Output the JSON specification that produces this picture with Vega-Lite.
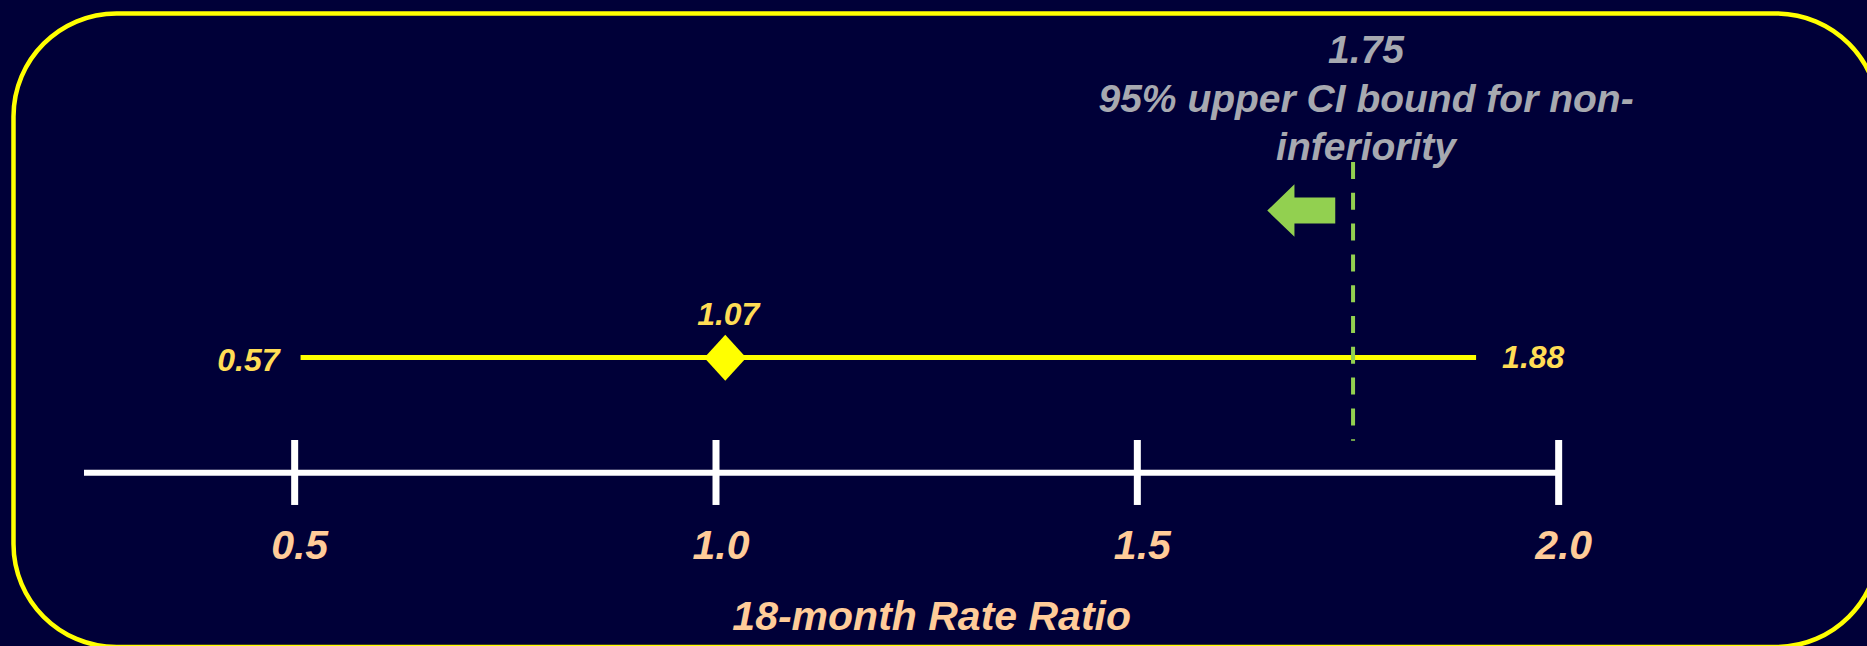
{
  "$schema": "https://vega.github.io/schema/vega-lite/v6.json",
  "width": 1865.5,
  "height": 633.5,
  "autosize": {"type": "none"},
  "padding": {"left": 13.5, "top": 13.5, "right": -12, "bottom": -1},
  "background": "#000038",
  "config": {
    "view": {"stroke": "#FFFF00", "strokeWidth": 4.5, "cornerRadius": 103, "fill": "#000038"},
    "text": {"font": "Liberation Sans", "fontWeight": "bold", "fontStyle": "italic"}
  },
  "datasets": {
    "axis": [{"start": 0.25, "end": 2.0}],
    "ticks": [
      {"v": 0.5, "label": "0.5"},
      {"v": 1.0, "label": "1.0"},
      {"v": 1.5, "label": "1.5"},
      {"v": 2.0, "label": "2.0"}
    ],
    "ci": [
      {"measure": "18-month Rate Ratio", "lower": 0.507, "estimate": 1.011, "upper": 1.902, "lowerLabel": "0.57", "estimateLabel": "1.07", "upperLabel": "1.88"}
    ],
    "margin": [
      {"threshold": 1.756, "note": "1.75\n95% upper CI bound for non-\ninferiority"}
    ],
    "title": [{"title": "18-month Rate Ratio", "center": 1.25}]
  },
  "layer": [
    {
      "data": {"name": "axis"},
      "mark": {"type": "rule", "color": "#FFFFFF", "strokeWidth": 6, "strokeCap": "butt"},
      "encoding": {
        "x": {"field": "start", "type": "quantitative", "scale": {"domain": [0.16634, 2.38014], "nice": false, "zero": false}, "axis": null},
        "x2": {"field": "end"},
        "y": {"datum": 2.751, "type": "quantitative", "scale": {"domain": [0, 10], "nice": false, "zero": false}, "axis": null}
      }
    },
    {
      "data": {"name": "ticks"},
      "mark": {"type": "rule", "color": "#FFFFFF", "strokeWidth": 7, "strokeCap": "butt"},
      "encoding": {
        "x": {"field": "v", "type": "quantitative", "scale": {"domain": [0.16634, 2.38014], "nice": false, "zero": false}, "axis": null},
        "y": {"datum": 3.268, "type": "quantitative", "scale": {"domain": [0, 10], "nice": false, "zero": false}, "axis": null},
        "y2": {"datum": 2.242}
      }
    },
    {
      "data": {"name": "ticks"},
      "mark": {"type": "text", "color": "#FFCC99", "fontSize": 41, "align": "center", "baseline": "alphabetic", "dx": 5},
      "encoding": {
        "x": {"field": "v", "type": "quantitative", "scale": {"domain": [0.16634, 2.38014], "nice": false, "zero": false}, "axis": null},
        "y": {"datum": 1.389, "type": "quantitative", "scale": {"domain": [0, 10], "nice": false, "zero": false}, "axis": null},
        "text": {"field": "label"}
      }
    },
    {
      "data": {"name": "title"},
      "mark": {"type": "text", "color": "#FFCC99", "fontSize": 41, "align": "center", "baseline": "alphabetic", "dx": 5},
      "encoding": {
        "x": {"field": "center", "type": "quantitative", "scale": {"domain": [0.16634, 2.38014], "nice": false, "zero": false}, "axis": null},
        "y": {"datum": 0.268, "type": "quantitative", "scale": {"domain": [0, 10], "nice": false, "zero": false}, "axis": null},
        "text": {"field": "title"}
      }
    },
    {
      "data": {"name": "ci"},
      "mark": {"type": "rule", "color": "#FFFF00", "strokeWidth": 5, "strokeCap": "butt"},
      "encoding": {
        "x": {"field": "lower", "type": "quantitative", "scale": {"domain": [0.16634, 2.38014], "nice": false, "zero": false}, "axis": null},
        "x2": {"field": "upper"},
        "y": {"datum": 4.57, "type": "quantitative", "scale": {"domain": [0, 10], "nice": false, "zero": false}, "axis": null}
      }
    },
    {
      "data": {"name": "ci"},
      "mark": {"type": "point", "shape": "M-1,0L0,-1.095L1,0L0,1.095Z", "size": 1764, "filled": true, "color": "#FFFF00", "opacity": 1, "strokeWidth": 0},
      "encoding": {
        "x": {"field": "estimate", "type": "quantitative", "scale": {"domain": [0.16634, 2.38014], "nice": false, "zero": false}, "axis": null},
        "y": {"datum": 4.567, "type": "quantitative", "scale": {"domain": [0, 10], "nice": false, "zero": false}, "axis": null}
      }
    },
    {
      "data": {"name": "ci"},
      "mark": {"type": "text", "color": "#FFDD55", "fontSize": 32, "align": "right", "baseline": "alphabetic", "dx": -21, "dy": 14},
      "encoding": {
        "x": {"field": "lower", "type": "quantitative", "scale": {"domain": [0.16634, 2.38014], "nice": false, "zero": false}, "axis": null},
        "y": {"datum": 4.57, "type": "quantitative", "scale": {"domain": [0, 10], "nice": false, "zero": false}, "axis": null},
        "text": {"field": "lowerLabel"}
      }
    },
    {
      "data": {"name": "ci"},
      "mark": {"type": "text", "color": "#FFDD55", "fontSize": 32, "align": "center", "baseline": "alphabetic", "dx": 3, "dy": -32.7},
      "encoding": {
        "x": {"field": "estimate", "type": "quantitative", "scale": {"domain": [0.16634, 2.38014], "nice": false, "zero": false}, "axis": null},
        "y": {"datum": 4.567, "type": "quantitative", "scale": {"domain": [0, 10], "nice": false, "zero": false}, "axis": null},
        "text": {"field": "estimateLabel"}
      }
    },
    {
      "data": {"name": "ci"},
      "mark": {"type": "text", "color": "#FFDD55", "fontSize": 32, "align": "left", "baseline": "alphabetic", "dx": 26, "dy": 10.5},
      "encoding": {
        "x": {"field": "upper", "type": "quantitative", "scale": {"domain": [0.16634, 2.38014], "nice": false, "zero": false}, "axis": null},
        "y": {"datum": 4.57, "type": "quantitative", "scale": {"domain": [0, 10], "nice": false, "zero": false}, "axis": null},
        "text": {"field": "upperLabel"}
      }
    },
    {
      "data": {"name": "margin"},
      "mark": {"type": "rule", "color": "#92D050", "strokeWidth": 4, "strokeDash": [17, 13.8], "strokeCap": "butt"},
      "encoding": {
        "x": {"field": "threshold", "type": "quantitative", "scale": {"domain": [0.16634, 2.38014], "nice": false, "zero": false}, "axis": null},
        "y": {"datum": 7.656, "type": "quantitative", "scale": {"domain": [0, 10], "nice": false, "zero": false}, "axis": null},
        "y2": {"datum": 3.256}
      }
    },
    {
      "data": {"name": "margin"},
      "mark": {"type": "point", "shape": "M-1,0L-0.2,-0.77L-0.2,-0.385L1,-0.385L1,0.385L-0.2,0.385L-0.2,0.77Z", "size": 4624, "filled": true, "color": "#92D050", "opacity": 1, "strokeWidth": 0, "xOffset": -51.8},
      "encoding": {
        "x": {"field": "threshold", "type": "quantitative", "scale": {"domain": [0.16634, 2.38014], "nice": false, "zero": false}, "axis": null},
        "y": {"datum": 6.89, "type": "quantitative", "scale": {"domain": [0, 10], "nice": false, "zero": false}, "axis": null}
      }
    },
    {
      "data": {"name": "margin"},
      "mark": {"type": "text", "color": "#A7A9B0", "fontSize": 39, "align": "center", "baseline": "alphabetic", "dx": 13, "lineBreak": "\n", "lineHeight": 48.5},
      "encoding": {
        "x": {"field": "threshold", "type": "quantitative", "scale": {"domain": [0.16634, 2.38014], "nice": false, "zero": false}, "axis": null},
        "y": {"datum": 9.211, "type": "quantitative", "scale": {"domain": [0, 10], "nice": false, "zero": false}, "axis": null},
        "text": {"field": "note"}
      }
    }
  ]
}
